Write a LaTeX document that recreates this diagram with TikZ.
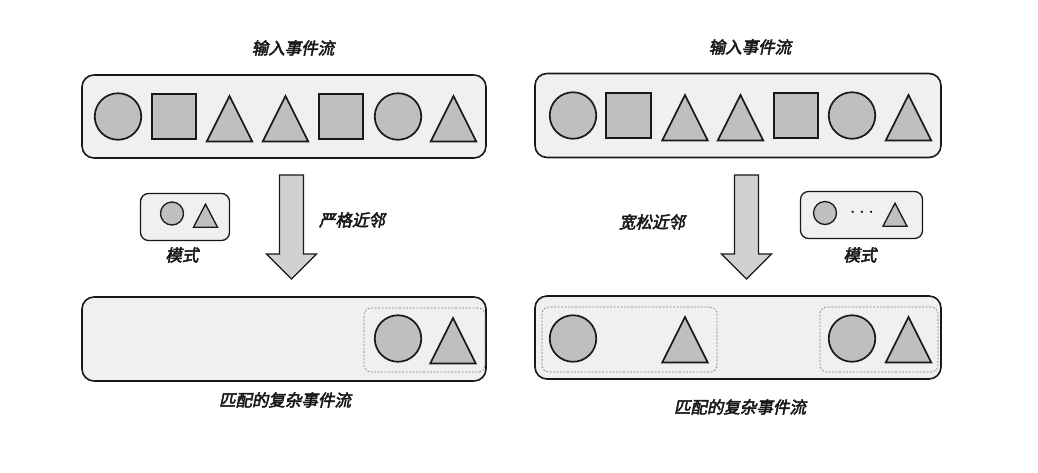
\documentclass[tikz,border=0pt]{standalone}
\usepackage{fontspec}
\newfontfamily\cjk[FakeBold=3,FakeSlant=0.2]{Noto Sans CJK SC}
\usetikzlibrary{shapes.geometric}

\begin{document}
\begin{tikzpicture}[x=1pt,y=-1pt,
  box/.style={draw=black!90,line width=1.6pt,fill=black!6,rounded corners=12pt,inner sep=0pt},
  pbox/.style={draw=black!90,line width=1.3pt,fill=black!6,rounded corners=8pt,inner sep=0pt},
  mbox/.style={draw=black!50,dash pattern=on 2pt off 1.5pt,line width=0.6pt,rounded corners=7pt,inner sep=0pt},
  shp/.style={draw=black!90,line width=1.7pt,fill=black!25,inner sep=0pt},
  circ/.style={shp,circle,minimum size=46.5pt},
  sq/.style={shp,rectangle,minimum size=44.5pt},
  tri/.style={shp,isosceles triangle,isosceles triangle stretches,shape border rotate=90,
    minimum width=45.5pt,minimum height=45.5pt,anchor=apex},
  scirc/.style={circ,line width=1.3pt,minimum size=23pt},
  stri/.style={tri,line width=1.3pt,minimum width=24pt,minimum height=23pt},
  barrow/.style={draw=black!90,line width=1.3pt,fill=black!18,line join=miter},
  lbl/.style={font=\cjk\fontsize{16.5}{18}\selectfont,text=black!90}]
  \useasboundingbox (0,0) rectangle (1038,472);

  \node[box,minimum width=404pt,minimum height=83pt] (inL) at (284,116.5) {};
  \node[lbl] (tinL) at (293,48) {输入事件流};
  \node[circ] (inL1) at (118,116.5) {};
  \node[sq] (inL2) at (174,116.5) {};
  \node[tri] (inL3) at (229.5,93.75) {};
  \node[tri] (inL4) at (285.5,93.75) {};
  \node[sq] (inL5) at (341,116.5) {};
  \node[circ] (inL6) at (398,116.5) {};
  \node[tri] (inL7) at (453.5,93.75) {};

  \node[pbox,minimum width=89pt,minimum height=47pt] (patL) at (185,217) {};
  \node[scirc] (patL1) at (172,213.5) {};
  \node[stri] (patL2) at (205.5,202.5) {};
  \node[lbl] (tpatL) at (182,255) {模式};

  \coordinate (arL) at (291.5,175);
  \draw[barrow] (arL) ++(-12,0) -- ++(24,0) -- ++(0,79) -- ++(13,0) -- ++(-25,25)
    -- ++(-25,-25) -- ++(13,0) -- cycle;
  \node[lbl] (tarL) at (352,220) {严格近邻};

  \node[box,minimum width=404pt,minimum height=84pt] (outL) at (284,339) {};
  \node[mbox,minimum width=121pt,minimum height=64pt] (mL) at (424.5,340) {};
  \node[circ] (outL1) at (398,338.5) {};
  \node[tri] (outL2) at (453,315.75) {};
  \node[lbl] (toutL) at (285,400) {匹配的复杂事件流};

  \node[box,minimum width=406pt,minimum height=84pt] (inR) at (738,115.5) {};
  \node[lbl] (tinR) at (750,47) {输入事件流};
  \node[circ] (inR1) at (573,115.5) {};
  \node[sq] (inR2) at (628.5,115.5) {};
  \node[tri] (inR3) at (685,92.75) {};
  \node[tri] (inR4) at (740.5,92.75) {};
  \node[sq] (inR5) at (796,115.5) {};
  \node[circ] (inR6) at (852,115.5) {};
  \node[tri] (inR7) at (908.5,92.75) {};

  \coordinate (arR) at (746.5,175);
  \draw[barrow] (arR) ++(-12,0) -- ++(24,0) -- ++(0,79) -- ++(13,0) -- ++(-25,25)
    -- ++(-25,-25) -- ++(13,0) -- cycle;
  \node[lbl] (tarR) at (652,222) {宽松近邻};

  \node[pbox,minimum width=122pt,minimum height=47pt] (patR) at (861.5,215) {};
  \node[scirc] (patR1) at (825,213) {};
  \node[font=\fontsize{20}{20}\selectfont] (patR2) at (862,213) {$\cdots$};
  \node[stri] (patR3) at (895,201.5) {};
  \node[lbl] (tpatR) at (860,255) {模式};

  \node[box,minimum width=406pt,minimum height=83pt] (outR) at (738,337.5) {};
  \node[mbox,minimum width=175pt,minimum height=65pt] (mR1) at (629.5,339.5) {};
  \node[mbox,minimum width=118pt,minimum height=65pt] (mR2) at (879,339.5) {};
  \node[circ] (outR1) at (573,338.5) {};
  \node[tri] (outR2) at (685,314.75) {};
  \node[circ] (outR3) at (852,338.5) {};
  \node[tri] (outR4) at (908.5,314.75) {};
  \node[lbl] (toutR) at (740,407) {匹配的复杂事件流};
\end{tikzpicture}
\end{document}
